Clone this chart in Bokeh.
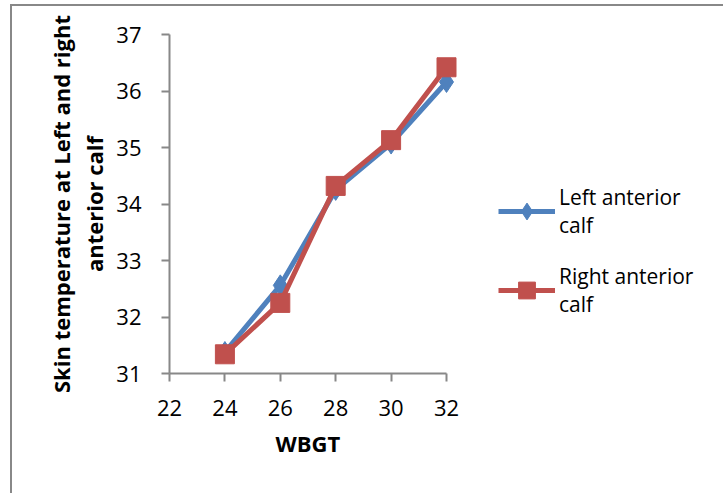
from bokeh.plotting import figure
from bokeh.models import Range1d, FixedTicker, Legend, LegendItem, Title
from bokeh.embed import file_html
from bokeh.resources import INLINE

wbgt = [24, 26, 28, 30, 32]
left_calf = [31.38, 32.56, 34.25, 35.07, 36.16]
right_calf = [31.34, 32.25, 34.32, 35.13, 36.42]
x_ticks = [22, 24, 26, 28, 30, 32]
y_ticks = [31, 32, 33, 34, 35, 36, 37]
series_names = ["Left anterior\ncalf", "Right anterior\ncalf"]
x_title = "WBGT"
y_title = "Skin temperature at Left and right\nanterior calf"

FONT = "Open Sans"
BLUE = "#4F81BD"
RED = "#C0504D"
AXIS = "#888888"

# plotted area 277 px wide for 22..32; frame extended to the right so the legend fits inside it
X0, X1 = x_ticks[0], x_ticks[-1]
frame_w = 713 - 157
x_end = X0 + (X1 - X0) * frame_w / 277.0

p = figure(width=713, height=489, output_backend="svg", toolbar_location=None,
           x_range=Range1d(X0, x_end), y_range=Range1d(y_ticks[0], y_ticks[-1]),
           min_border_left=157, min_border_top=28, min_border_right=0,
           min_border_bottom=122)
p.styles = {"margin-left": "10px", "margin-top": "4px",
            "border-left": "2px solid #888888", "border-top": "2px solid #888888"}
p.outline_line_color = None
p.xgrid.visible = False
p.ygrid.visible = False

bl = p.line(wbgt, left_calf, line_color=BLUE, line_width=5)
bm = p.scatter(wbgt, left_calf, marker="diamond", size=21, fill_color=BLUE, line_color=BLUE)
rl = p.line(wbgt, right_calf, line_color=RED, line_width=5)
rm = p.scatter(wbgt, right_calf, marker="square", size=19, fill_color=RED, line_color=RED)

for ax in (p.xaxis[0], p.yaxis[0]):
    ax.axis_line_color = AXIS
    ax.axis_line_width = 2
    ax.major_tick_line_color = AXIS
    ax.major_tick_line_width = 2
    ax.major_tick_in = 0
    ax.major_tick_out = 8
    ax.minor_tick_line_color = None
    ax.major_label_text_font = FONT
    ax.major_label_text_font_size = "22px"
    ax.major_label_text_color = "black"
    ax.axis_label_text_font = FONT
    ax.axis_label_text_font_style = "bold"
    ax.axis_label_text_font_size = "22px"
    ax.axis_label_text_color = "black"

p.xaxis.bounds = (X0, X1)
p.xaxis.ticker = FixedTicker(ticks=x_ticks)
p.yaxis.ticker = FixedTicker(ticks=y_ticks)
p.xaxis.major_label_standoff = 18
p.yaxis.major_label_standoff = 20
p.yaxis.axis_label = y_title
p.yaxis.axis_label_standoff = 4
p.yaxis.axis_label_text_line_height = 1.1

xt = Title(text=x_title, align="left", offset=106, standoff=15, text_font=FONT,
           text_font_size="22px", text_font_style="bold", text_color="black")
p.add_layout(xt, "below")

legend = Legend(items=[LegendItem(label=series_names[0], renderers=[bl, bm]),
                       LegendItem(label=series_names[1], renderers=[rl, rm])],
                location=(329, 55))
legend.border_line_color = None
legend.background_fill_alpha = 0
legend.label_text_font = FONT
legend.label_text_font_size = "21px"
legend.label_text_color = "black"
legend.label_text_line_height = 2.0
legend.glyph_width = 57
legend.glyph_height = 42
legend.spacing = 23
legend.padding = 0
legend.margin = 0
legend.label_standoff = 4
p.add_layout(legend)

open("out.html", "w").write(file_html(p, INLINE))
